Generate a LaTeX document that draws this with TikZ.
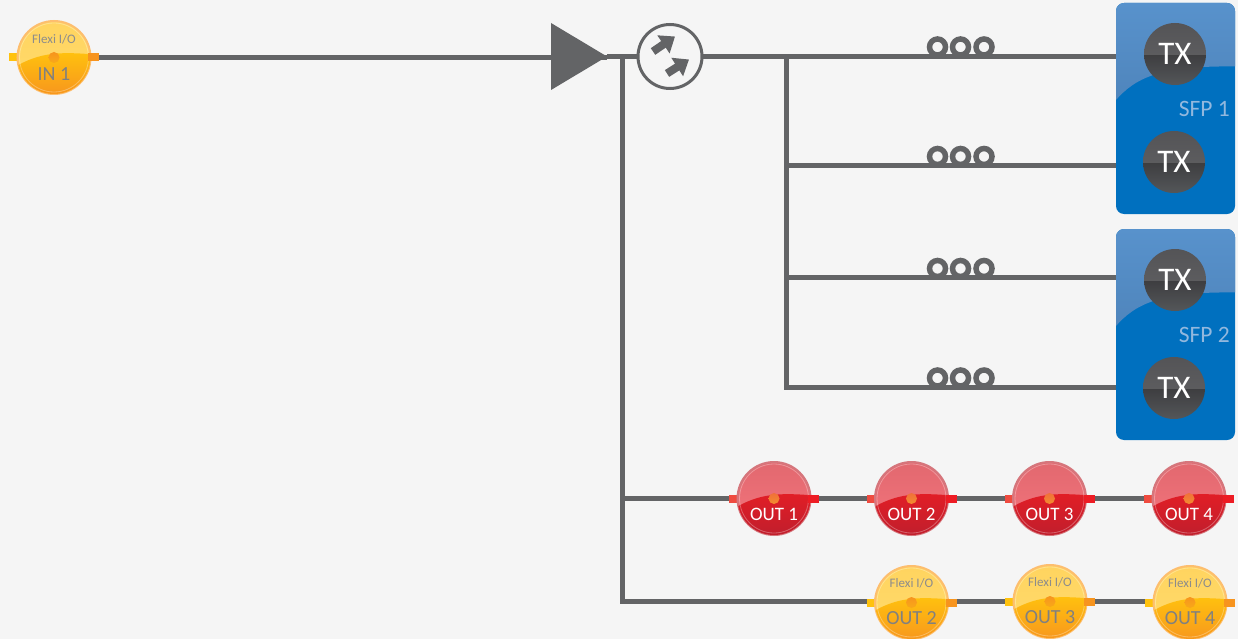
\documentclass[tikz,border=0pt]{standalone}
\usepackage{fontspec}
\setmainfont{Carlito}
\usetikzlibrary{shapes.geometric,calc,arrows.meta,backgrounds}
\definecolor{bgc}{HTML}{F5F5F5}
\definecolor{wirec}{HTML}{636466}
\definecolor{ambtop}{HTML}{FFD45F}
\definecolor{ambmid}{HTML}{FFDB6E}
\definecolor{amblow}{HTML}{FFC20E}
\definecolor{ambbot}{HTML}{F7941E}
\definecolor{ambrim}{HTML}{FDBE6E}
\definecolor{ambtabl}{HTML}{FFC20E}
\definecolor{ambtabr}{HTML}{F7941E}
\definecolor{ambdot}{HTML}{F7941E}
\definecolor{redtop}{HTML}{E2686F}
\definecolor{redmid}{HTML}{F5767E}
\definecolor{redlow}{HTML}{E21E26}
\definecolor{redbot}{HTML}{BE1E2D}
\definecolor{redrim}{HTML}{D5767C}
\definecolor{redtabl}{HTML}{EF4B40}
\definecolor{redtabr}{HTML}{ED1C24}
\definecolor{reddot}{HTML}{F0703A}
\definecolor{sfplow}{HTML}{0070BF}
\definecolor{sfptop}{HTML}{5892CC}
\definecolor{sfpmid}{HTML}{4F85BC}
\pgfdeclareverticalshading{txshade}{100bp}{rgb(0bp)=(0.33,0.34,0.35); rgb(25bp)=(0.33,0.34,0.35); rgb(49.9bp)=(0.24,0.24,0.25); rgb(50bp)=(0.36,0.36,0.37); rgb(75bp)=(0.33,0.33,0.34); rgb(100bp)=(0.33,0.33,0.34)}
\newcommand{\fs}[1]{\fontsize{#1}{#1}\selectfont}
\tikzstyle{wire}=[draw=wirec, line width=5pt]
\tikzstyle{ledball}=[circle, minimum size=73pt, inner sep=0pt, outer sep=0pt, line width=2pt]
\tikzstyle{coil}=[circle, draw=wirec, fill=bgc, minimum size=16pt, inner sep=0pt, outer sep=0pt, line width=5.5pt]
\tikzstyle{txnode}=[circle, minimum size=62pt, inner sep=0pt, outer sep=0pt, shading=txshade, text=white, font=\fs{33}]
\tikzstyle{sfpbox}=[rectangle, fill=sfplow, rounded corners=8pt, minimum width=119pt, minimum height=211pt, inner sep=0pt, outer sep=0pt]
\tikzstyle{sfplbl}=[anchor=east, inner sep=0pt, text=sfptop!65!white, font=\fs{23.5}]
\tikzstyle{redlbl}=[inner sep=0pt, text=white, font=\fs{19}]
\tikzstyle{amblbl}=[inner sep=0pt, text=black!50, font=\fs{20}]
\tikzstyle{flexilbl}=[inner sep=0pt, text=black!45, font=\fs{13}]
\tikzstyle{swarrow}=[wirec, line width=8pt, -{Triangle[length=14pt,width=21pt]}]
\newcommand{\ledball}[3]{
    \begin{scope}[shift={#2}]
        \fill[#3tabl] (-45,-4) rectangle (-35,4);
        \node[ledball, draw=#3rim, top color=#3top, bottom color=#3mid] at (0,0) (#1) {};
        \begin{scope}
            \clip (0,0) circle (36.5pt);
            \path[top color=#3low, bottom color=#3bot] (-40,10) .. controls (-15,-5) and (5,-6) .. (40,-3) -- (40,40) -- (-40,40) -- cycle;
        \end{scope}
        \draw[white, opacity=0.3, line width=0.8pt] (0,0) circle (34.5pt);
        \fill[#3tabr] (34,-4) rectangle (45,4);
        \path[top color=#3dot, bottom color=#3dot!80!yellow] (0,0) circle (5.5pt);
    \end{scope}
}
\newcommand{\sfpgloss}[1]{
    \begin{scope}
        \clip[rounded corners=8pt] (#1.south west) rectangle (#1.north east);
        \begin{scope}[shift={(#1)}]
            \path[top color=sfptop, bottom color=sfpmid] (-60,-8) .. controls (-40,-31) and (-15,-43) .. (60,-42) -- (60,-106) -- (-60,-106) -- cycle;
        \end{scope}
    \end{scope}
}
\begin{document}
\begin{tikzpicture}[x=1pt, y=-1pt]
    \useasboundingbox (0,0) rectangle (1238,639);

    % input, amplifier and switch
    \ledball{in1}{(54,57.5)}{amb}
    \node[flexilbl] at ($(in1)+(0,-18.5)$) (in1f) {Flexi I/O};
    \node[amblbl] at ($(in1)+(0,17)$) (in1l) {IN 1};
    \node[isosceles triangle, isosceles triangle stretches, fill=wirec, inner sep=0pt, outer sep=0pt, minimum height=56pt, minimum width=67pt, anchor=apex] at (607,56.5) (amp) {};
    \node[circle, draw=wirec, fill=bgc, line width=3pt, minimum size=64pt, inner sep=0pt, outer sep=0pt] at (670,56.5) (sw) {};
    \begin{scope}[shift={(sw)}]
        \draw[swarrow] (-17,-5) -- (5,-20);
        \draw[swarrow] (-3,17) -- (19,3);
    \end{scope}

    % SFP cages
    \node[sfpbox] at (1175.5,108.5) (sfp1) {};
    \node[sfpbox] at (1175.5,334.5) (sfp2) {};
    \sfpgloss{sfp1}
    \sfpgloss{sfp2}
    \node[txnode] at (1175,54) (tx1) {TX};
    \node[txnode] at (1174,162) (tx2) {TX};
    \node[txnode] at (1175,280) (tx3) {TX};
    \node[txnode] at (1174,388) (tx4) {TX};
    \node[sfplbl] at (1230,109) (sfp1l) {SFP 1};
    \node[sfplbl] at (1230,335) (sfp2l) {SFP 2};

    % taps and coils
    \coordinate (bus) at (622,56.5);
    \coordinate (tap1) at (786,56.5);
    \coordinate (tap2) at (786,165.5);
    \coordinate (tap3) at (786,277.5);
    \coordinate (tap4) at (786,387);
    \foreach \n/\y in {1/47, 2/156.5, 3/268.5, 4/378} {
        \node[coil] at (937.5,\y) (coil\n a) {};
        \node[coil] at (960.5,\y) (coil\n b) {};
        \node[coil] at (984,\y) (coil\n c) {};
    }

    % outputs
    \foreach \n/\x in {1/774, 2/911.5, 3/1049.5, 4/1189} {
        \ledball{rout\n}{(\x,498.5)}{red}
        \node[redlbl] at ($(rout\n)+(0,16)$) (rout\n l) {OUT \n};
    }
    \foreach \n/\x/\y in {2/911.5/602.5, 3/1050/601.5, 4/1190/602.5} {
        \ledball{aout\n}{(\x,\y)}{amb}
        \node[flexilbl] at ($(aout\n)+(0,-19)$) (aout\n f) {Flexi I/O};
        \node[amblbl] at ($(aout\n)+(0,16)$) (aout\n l) {OUT \n};
    }

    \begin{scope}[on background layer]
        \fill[bgc] (0,0) rectangle (1238,639);
        \draw[wire] (in1) -- (in1 -| amp.apex);
        \draw[wire] (amp.apex) -- (sw.west);
        \draw[wire] (sw.east) -- (sw.east -| sfp1.west);
        \draw[wire] (bus) -- (bus |- aout3) -- (aout3);
        \draw[wire] (bus |- rout1) -- (rout1);
        \draw[wire] (rout1) -- (rout2) -- (rout3) -- (rout4);
        \draw[wire] (aout3) -- (aout4 |- aout3);
        \draw[wire] (tap1) -- (tap4) -- (tap4 -| sfp2.west);
        \draw[wire] (tap2) -- (tap2 -| sfp1.west);
        \draw[wire] (tap3) -- (tap3 -| sfp2.west);
    \end{scope}
\end{tikzpicture}
\end{document}
